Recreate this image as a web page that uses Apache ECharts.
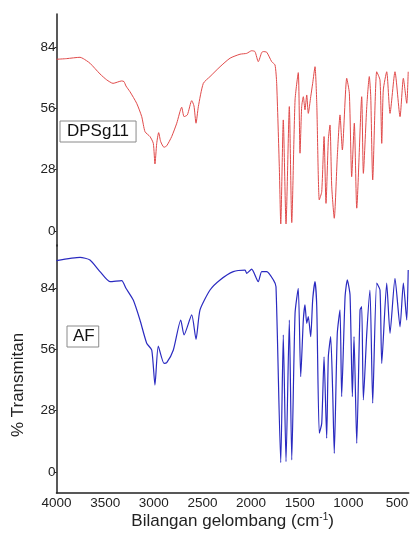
<!DOCTYPE html>
<html>
<head>
<meta charset="utf-8">
<script src="https://cdn.jsdelivr.net/npm/echarts@6/dist/echarts.min.js"></script>
<style>
html,body{margin:0;padding:0;background:#fff;}
#chart{width:411px;height:535px;}
</style>
</head>
<body>
<div id="chart"></div>
<script>
// ---- Data ----
const xTicks = [4000, 3500, 3000, 2500, 2000, 1500, 1000, 500];
const yTicks = [0, 28, 56, 84];

const seriesNames = ['DPSg11', 'AF'];

// DPSg11 (upper, red)
const dpsWavenumber = [4000,3895,3758,3725,3656,3553,3484,3419,3330,3306,3286,3245,3176,3124,3090,3039,3005,2988,2970,2950,2929,2895,2867,2816,2764,2713,2689,2655,2610,2587,2566,2542,2491,2422,2319,2216,2114,2045,1994,1960,1926,1891,1874,1839,1788,1754,1737,1710,1695,1669,1641,1607,1582,1548,1515,1497,1480,1463,1446,1428,1412,1387,1367,1343,1325,1299,1274,1250,1230,1206,1189,1171,1145,1114,1086,1062,1017,990,966,939,914,863,846,811,785,770,750,709,675,657,641,606,572,521,469,435,400,385];
const dpsTransmit = [78.4,78.7,79.3,78.7,76.6,71.7,69.0,67.4,68.5,68.2,66.2,63.6,58.3,52.2,45.3,43.1,40.0,30.6,40.0,44.9,40.8,38.2,38.9,43.1,49.2,56.5,52.2,53.0,59.5,57.1,49.2,56.8,67.4,70.5,75.0,78.9,80.7,81.1,82.3,81.9,77.3,81.5,81.9,81.6,77.3,75.8,67.4,29.4,3.2,50.7,3.2,56.8,3.8,59.8,72.3,35.5,56.8,61.3,55.3,62.1,53.7,61.3,67.4,75.0,58.3,14.2,17.9,43.1,12.6,41.6,48.4,20.2,5.8,33.9,53.0,37.0,69.7,62.9,24.8,49.2,10.4,61.3,26.3,56.8,70.5,61.3,23.3,72.7,68.9,40.0,64.4,72.7,53.7,72.7,52.2,69.7,58.3,72.7];

// AF (lower, blue)
const afWavenumber = [4000,3758,3656,3553,3450,3330,3286,3211,3142,3073,3021,2988,2954,2895,2867,2799,2723,2689,2610,2566,2525,2422,2319,2183,2062,2045,1994,1926,1891,1839,1771,1744,1695,1669,1641,1607,1582,1548,1515,1490,1463,1446,1428,1412,1387,1367,1343,1325,1299,1274,1250,1223,1206,1182,1161,1145,1114,1086,1069,1034,1011,983,959,942,914,880,863,846,811,778,750,709,675,657,606,572,521,469,435,400,385];
const afTransmit = [96.5,98.0,96.8,91.5,86.9,87.4,83.9,78.5,69.4,58.8,55.7,39.7,57.5,49.6,49.9,55.7,69.4,62.6,71.7,60.6,74.0,83.1,87.7,91.5,92.2,90.7,92.6,86.9,91.5,91.5,87.7,84.6,4.3,62.6,4.7,69.4,5.5,72.5,83.9,43.5,69.4,76.3,67.9,70.9,61.8,78.5,86.9,75.5,17.7,22.2,52.6,15.4,52.6,61.8,35.9,8.5,63.3,74.0,34.4,80.0,87.7,80.8,34.4,61.8,13.1,74.0,75.5,32.9,63.3,83.1,31.4,86.2,83.1,49.6,86.2,63.3,88.4,66.3,86.2,69.4,92.2];

const xName = 'Bilangan gelombang (cm{sup|-1})';
const yName = '% Transmitan';

// ---- Chart ----
const FONT = '"Liberation Sans", Arial, sans-serif';
const pairs = (xs, ys) => xs.map((x, i) => [x, ys[i]]);

const chart = echarts.init(document.getElementById('chart'), null, {renderer: 'canvas'});

function yAxisCfg(grid, min, max) {
  return {
    type: 'value', gridIndex: grid, min: min, max: max,
    axisLine: {show: true, lineStyle: {color: '#222', width: 1.5}},
    axisTick: {show: true, length: 2, customValues: yTicks, lineStyle: {color: '#222'}},
    axisLabel: {customValues: yTicks, color: '#222', fontSize: 13.5, fontFamily: FONT, margin: 1,
                formatter: v => String(v)},
    splitLine: {show: false}
  };
}

const option = {
  animation: false,
  backgroundColor: '#fff',
  grid: [
    {left: 56.5, right: 2.3, top: 14, height: 232, outerBoundsMode: 'none', containLabel: false},
    {left: 56.5, right: 2.3, top: 245, height: 248, outerBoundsMode: 'none', containLabel: false}
  ],
  xAxis: [
    {type: 'value', gridIndex: 0, inverse: true, min: 380, max: 4000, show: false},
    {type: 'value', gridIndex: 1, inverse: true, min: 380, max: 4000,
     axisLine: {show: true, onZero: false, lineStyle: {color: '#222', width: 1.5}},
     axisTick: {show: false},
     axisLabel: {customValues: xTicks, color: '#222', fontSize: 13.5, fontFamily: FONT, margin: 3,
                 formatter: v => String(v)},
     splitLine: {show: false},
     name: xName, nameLocation: 'middle', nameGap: 19,
     nameTextStyle: {color: '#222', fontSize: 17, fontFamily: FONT,
       rich: {sup: {fontSize: 10, fontFamily: FONT, color: '#222', padding: [0, 0, 8, 0]}}}
    }
  ],
  yAxis: [yAxisCfg(0, -6.41 - 1 / 2.19, 99.07), yAxisCfg(1, -9.59, 103.65)],
  legend: [
    {data: [seriesNames[0]], left: 60, top: 121, itemWidth: 0, itemHeight: 0, itemGap: 0,
     selectedMode: false, borderColor: '#8a8a8a', borderWidth: 1, backgroundColor: '#fff',
     padding: [2, 7, 2, 1], textStyle: {color: '#111', fontSize: 17, fontFamily: FONT}},
    {data: [seriesNames[1]], left: 67, top: 326, itemWidth: 0, itemHeight: 0, itemGap: 0,
     selectedMode: false, borderColor: '#8a8a8a', borderWidth: 1, backgroundColor: '#fff',
     padding: [2, 4, 2, 0], textStyle: {color: '#111', fontSize: 17, fontFamily: FONT}}
  ],
  graphic: [
    {type: 'text', x: 18.5, y: 385, rotation: Math.PI / 2,
     style: {text: yName, fill: '#222', font: '17px ' + FONT, align: 'center', verticalAlign: 'middle'}}
  ],
  series: [
    {name: seriesNames[0], type: 'line', xAxisIndex: 0, yAxisIndex: 0, showSymbol: false, smooth: 0.2,
     data: pairs(dpsWavenumber, dpsTransmit), lineStyle: {color: '#e04a4a', width: 1}, itemStyle: {color: '#e04a4a'}},
    {name: seriesNames[1], type: 'line', xAxisIndex: 1, yAxisIndex: 1, showSymbol: false, smooth: 0.2,
     data: pairs(afWavenumber, afTransmit), lineStyle: {color: '#2a2ac0', width: 1.2}, itemStyle: {color: '#2a2ac0'}}
  ]
};
chart.setOption(option);
</script>
</body>
</html>
